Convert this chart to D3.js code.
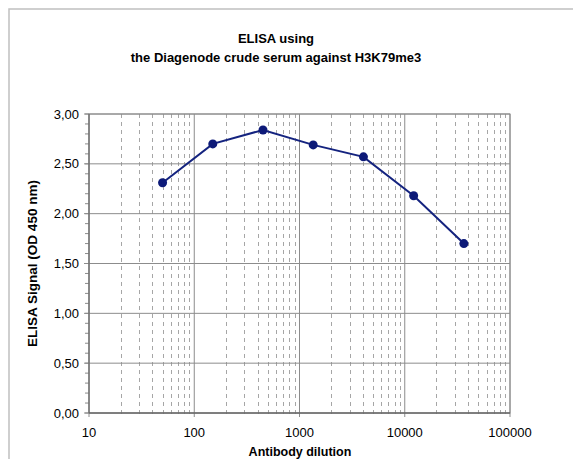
<!DOCTYPE html>
<html>
<head>
<meta charset="utf-8">
<script src="https://cdn.jsdelivr.net/npm/d3@7"></script>
<style>
body { margin: 0; background: #fff; }
svg { font-family: "Liberation Sans", Arial, sans-serif; }
</style>
</head>
<body>
<div id="chart"></div>
<script>
// data
var dilutions = [50, 150, 450, 1350, 4050, 12150, 36450];
var signal = [2.31, 2.70, 2.84, 2.69, 2.57, 2.18, 1.70];
var yTicks = [0, 0.5, 1, 1.5, 2, 2.5, 3];
var xDecades = [10, 100, 1000, 10000, 100000];

var width = 573, height = 459;
var margin = {t: 114, r: 63, b: 46, l: 89};
var w = width - margin.l - margin.r,
    h = height - margin.t - margin.b;

var svg = d3.select('#chart').append('svg')
    .attr('width', width)
    .attr('height', height);

// outer frame
svg.append('rect')
    .attr('x', 9).attr('y', 9)
    .attr('width', width + 20).attr('height', height + 20)
    .attr('fill', 'none')
    .attr('stroke', '#c0c0c0')
    .attr('stroke-width', 1.5);

var plot = svg.append('g')
    .attr('transform', 'translate(' + margin.l + ',' + margin.t + ')');

var x = d3.scaleLog().domain([10, 100000]).range([0, w]);
var y = d3.scaleLinear().domain([0, 3]).range([h, 0]);

// minor dashed verticals
var minor = [];
xDecades.slice(0, -1).forEach(function(d){
    for (var k = 2; k <= 9; k++) minor.push(d * k);
});
plot.selectAll('.minor').data(minor).enter().append('line')
    .attr('class', 'minor')
    .attr('x1', function(d){ return Math.round(x(d)) + 0.5; })
    .attr('x2', function(d){ return Math.round(x(d)) + 0.5; })
    .attr('y1', 0).attr('y2', h + 3)
    .attr('stroke', '#a6a6a6')
    .attr('stroke-dasharray', '4,4');

// major verticals
plot.selectAll('.vmajor').data(xDecades).enter().append('line')
    .attr('x1', function(d){ return x(d); })
    .attr('x2', function(d){ return x(d); })
    .attr('y1', 0).attr('y2', h + 4)
    .attr('stroke', '#8c8c8c');

// horizontal grid
plot.selectAll('.hgrid').data(yTicks).enter().append('line')
    .attr('x1', -5).attr('x2', w)
    .attr('y1', function(d){ return y(d); })
    .attr('y2', function(d){ return y(d); })
    .attr('stroke', '#8c8c8c');

// y minor ticks
plot.selectAll('.ym').data(d3.range(0, 31).map(function(i){ return i / 10; })).enter().append('line')
    .attr('x1', -4).attr('x2', 0)
    .attr('y1', function(d){ return y(d); })
    .attr('y2', function(d){ return y(d); })
    .attr('stroke', '#8c8c8c');

// frame of plot area
plot.append('rect')
    .attr('width', w).attr('height', h)
    .attr('fill', 'none')
    .attr('stroke', '#8c8c8c');
plot.append('line').attr('x1', 0).attr('x2', w).attr('y1', h).attr('y2', h)
    .attr('stroke', '#555');
plot.append('line').attr('x1', 0).attr('x2', 0).attr('y1', 0).attr('y2', h)
    .attr('stroke', '#666');

// tick labels
var fmt = function(d){ return d3.format('.2f')(d).replace('.', ','); };
plot.selectAll('.ylab').data(yTicks).enter().append('text')
    .attr('x', -10)
    .attr('y', function(d){ return y(d); })
    .attr('dy', '0.35em')
    .attr('text-anchor', 'end')
    .attr('font-size', 13)
    .text(fmt);

plot.selectAll('.xlab').data(xDecades).enter().append('text')
    .attr('x', function(d){ return x(d); })
    .attr('y', h + 24)
    .attr('text-anchor', 'middle')
    .attr('font-size', 13)
    .text(function(d){ return d; });

// series
var line = d3.line()
    .x(function(d, i){ return x(dilutions[i]); })
    .y(function(d){ return y(d); });

plot.append('path')
    .datum(signal)
    .attr('d', line)
    .attr('fill', 'none')
    .attr('stroke', '#14237f')
    .attr('stroke-width', 2);

plot.selectAll('.pt').data(signal).enter().append('circle')
    .attr('cx', function(d, i){ return x(dilutions[i]); })
    .attr('cy', function(d){ return y(d); })
    .attr('r', 4.5)
    .attr('fill', '#0d1a78');

// titles
svg.append('text').attr('x', 276).attr('y', 43)
    .attr('text-anchor', 'middle').attr('font-size', 13).attr('font-weight', 'bold')
    .text('ELISA using');
svg.append('text').attr('x', 276).attr('y', 62)
    .attr('text-anchor', 'middle').attr('font-size', 13).attr('font-weight', 'bold')
    .text('the Diagenode crude serum against H3K79me3');

svg.append('text').attr('x', 300).attr('y', 456)
    .attr('text-anchor', 'middle').attr('font-size', 12.5).attr('font-weight', 'bold')
    .text('Antibody dilution');

svg.append('text')
    .attr('transform', 'translate(37,' + (margin.t + h / 2) + ') rotate(-90)')
    .attr('text-anchor', 'middle').attr('font-size', 13.5).attr('font-weight', 'bold')
    .text('ELISA Signal (OD 450 nm)');
</script>
</body>
</html>
